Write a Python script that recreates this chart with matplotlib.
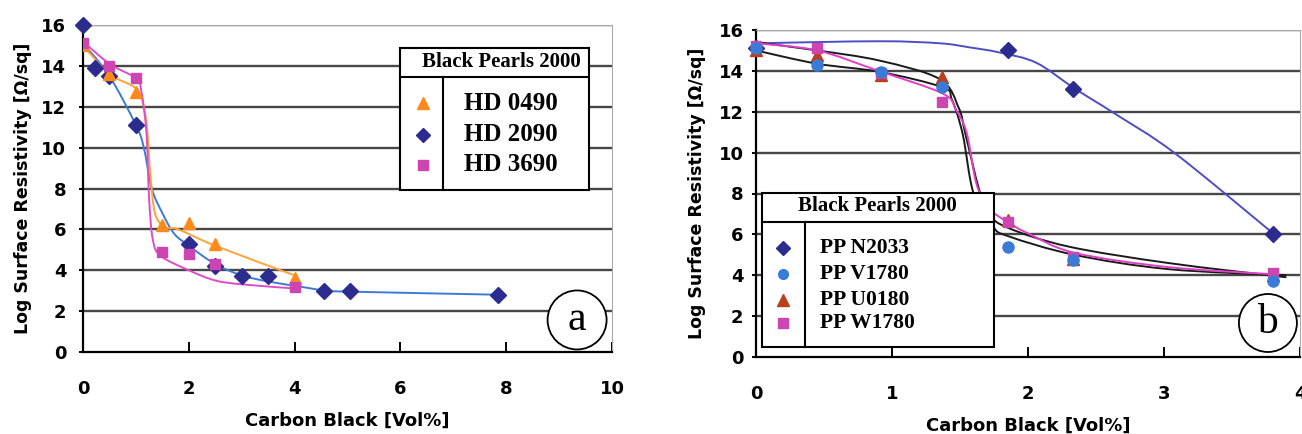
import numpy as np
import matplotlib
matplotlib.use("Agg")
import matplotlib.pyplot as plt
from matplotlib.path import Path
from matplotlib.patches import PathPatch, Rectangle, Ellipse

# ---- panel a : HDPE grades ----
hd0490_x = [0, 0.5, 1.0, 1.5, 2.0, 2.5, 4.0]
hd0490_y = [15.0, 13.6, 12.7, 6.2, 6.3, 5.3, 3.6]
hd2090_x = [0, 0.22, 0.5, 1.0, 2.0, 2.5, 3.0, 3.5, 4.55, 5.05, 7.85]
hd2090_y = [16.0, 13.9, 13.5, 11.1, 5.3, 4.2, 3.7, 3.7, 3.0, 3.0, 2.8]
hd3690_x = [0, 0.5, 1.0, 1.5, 2.0, 2.5, 4.0]
hd3690_y = [15.1, 14.0, 13.4, 4.9, 4.8, 4.3, 3.2]

# fitted curves (knots)
hd0490_fit_x = [0, 0.5, 1.0, 1.15, 1.22, 1.27, 1.36, 1.55, 1.8, 2.5, 4.05]
hd0490_fit_y = [15.0, 13.6, 12.9, 12.0, 10.7, 8.8, 6.8, 6.1, 6.0, 5.2, 3.7]
hd2090_fit_x = [0, 0.5, 1.0, 1.15, 1.3, 1.5, 1.72, 2.0, 2.5, 3.0, 3.5, 4.1, 4.6, 5.1, 7.9]
hd2090_fit_y = [15.1, 13.5, 11.1, 10.0, 8.0, 6.8, 5.8, 5.2, 4.3, 3.75, 3.45, 3.2, 3.0, 2.95, 2.8]
hd3690_fit_x = [0, 0.5, 1.0, 1.1, 1.2, 1.25, 1.32, 1.47, 2.0, 2.5, 3.05, 4.05]
hd3690_fit_y = [15.2, 14.1, 13.4, 12.8, 10.7, 7.5, 5.5, 4.7, 4.0, 3.5, 3.3, 3.1]

# ---- panel b : PP grades ----
n2033_x = [0, 1.85, 2.33, 3.8]
n2033_y = [15.1, 15.0, 13.1, 6.0]
pp_x = [0, 0.45, 0.92, 1.37, 1.85, 2.33, 3.8]
v1780_y = [15.1, 14.3, 13.95, 13.2, 5.4, 4.75, 3.7]
u0180_y = [15.0, 14.8, 13.8, 13.7, 6.7, 4.8, 4.0]
w1780_y = [15.2, 15.1, 13.9, 12.5, 6.6, 4.9, 4.1]

n2033_fit_x = [0, 0.9, 1.35, 1.57, 1.79, 2.06, 2.34, 2.64, 3.08, 3.8]
n2033_fit_y = [15.35, 15.45, 15.35, 15.15, 14.9, 14.4, 13.15, 11.9, 9.97, 6.06]
w1780_fit_x = [0, 0.45, 0.9, 1.37, 1.47, 1.55, 1.62, 1.71, 1.85, 2.0, 2.34, 3.03, 3.8]
w1780_fit_y = [15.35, 15.0, 14.0, 12.9, 12.1, 10.95, 8.5, 7.3, 6.6, 6.05, 5.1, 4.4, 4.05]
blk1_fit_x = [0, 0.45, 0.91, 1.35, 1.49, 1.54, 1.64, 1.71, 1.86, 2.3, 3.03, 3.9]
blk1_fit_y = [15.4, 15.0, 14.5, 13.6, 12.2, 10.9, 8.2, 7.0, 6.3, 5.4, 4.6, 3.9]
blk2_fit_x = [0, 0.45, 0.91, 1.37, 1.44, 1.52, 1.6, 1.74, 1.86, 2.34, 3.03, 3.9]
blk2_fit_y = [15.0, 14.35, 13.95, 13.2, 12.6, 10.9, 8.0, 6.4, 5.9, 5.0, 4.3, 4.0]

legend_title = "Black Pearls 2000"
labels_a = ["HD 0490", "HD 2090", "HD 3690"]
labels_b = ["PP N2033", "PP V1780", "PP U0180", "PP W1780"]

NAVY = "#2c2c8e"
ORANGE = "#ff8a1c"
MAGENTA = "#cc45b0"
LBLUE = "#3b7bd8"
BRICK = "#b8401c"

SANS = "DejaVu Sans"
SERIF = "Liberation Serif"


def smooth(ax, xs, ys, color, lw=1.4):
    # catmull-rom knots -> cubic bezier path, drawn by matplotlib
    p = np.column_stack([xs, ys]).astype(float)
    p = np.vstack([p[0], p, p[-1]])
    verts = [p[1]]
    codes = [Path.MOVETO]
    for i in range(1, len(p) - 2):
        c1 = p[i] + (p[i + 1] - p[i - 1]) / 6.0
        c2 = p[i + 1] - (p[i + 2] - p[i]) / 6.0
        verts += [c1, c2, p[i + 1]]
        codes += [Path.CURVE4] * 3
    ax.add_patch(PathPatch(Path(verts, codes), fc="none", ec=color, lw=lw,
                           transform=ax.transData, zorder=3))


def style_axes(ax, xmax, xticks, ypad, ylpad):
    ax.set_xlim(0, xmax)
    ax.set_ylim(0, 16)
    ax.set_yticks(range(0, 17, 2))
    ax.set_xticks(xticks)
    for y in range(2, 17, 2):
        ax.axhline(y, color="#474747", lw=1.7, zorder=1)
    ax.spines["left"].set_linewidth(1.6)
    ax.spines["bottom"].set_linewidth(1.6)
    ax.spines["top"].set_color("#aaaaaa")
    ax.spines["right"].set_color("#aaaaaa")
    ax.tick_params(axis="x", direction="in", length=7, width=1.4, pad=20,
                   labelsize=13)
    ax.tick_params(axis="y", direction="out", length=3, width=1.4, pad=ypad,
                   labelsize=13)
    for t in ax.get_xticklabels() + ax.get_yticklabels():
        t.set_fontfamily(SANS)
        t.set_fontweight("bold")
    ax.set_xlabel("Carbon Black [Vol%]", fontfamily=SANS, fontweight="bold",
                  fontsize=13, labelpad=10)
    ax.set_ylabel("Log Surface Resistivity [\u03a9/sq]", fontfamily=SANS,
                  fontweight="bold", fontsize=12.5, labelpad=ylpad)


def legend_table(ax, x0, x1, y0, y1, ydiv, xdiv, tx, ty, mx, lx, rows, fs):
    kw = dict(transform=ax.transAxes, clip_on=False, zorder=6)
    ax.add_patch(Rectangle((x0, y0), x1 - x0, y1 - y0, fc="white", ec="black",
                           lw=1.5, **kw))
    ax.plot([x0, x1], [ydiv, ydiv], color="black", lw=1.5, **kw)
    ax.plot([xdiv, xdiv], [y0, ydiv], color="black", lw=1.5, **kw)
    ax.text(tx, ty, legend_title, ha="center", va="center", fontsize=15,
            fontfamily=SERIF, fontweight="bold", transform=ax.transAxes,
            zorder=7)
    for (marker, color, ms, label, y) in rows:
        ax.plot([mx], [y], marker=marker, color=color, ms=ms, ls="none", **kw)
        ax.text(lx, y, label, ha="left", va="center", fontsize=fs,
                fontfamily=SERIF, fontweight="bold", transform=ax.transAxes,
                zorder=7)


def panel_tag(ax, cx, cy, w, h, letter):
    ax.add_patch(Ellipse((cx, cy), w, h, transform=ax.transAxes, fc="white",
                         ec="black", lw=1.3, zorder=6, clip_on=False))
    ax.text(cx, cy, letter, ha="center", va="center", fontsize=30,
            fontfamily=SERIF, transform=ax.transAxes, zorder=7)


fig = plt.figure(figsize=(13.02, 4.34), dpi=100)
ax1 = fig.add_axes([83 / 1302, 82 / 434, 529 / 1302, 327 / 434])
ax2 = fig.add_axes([756 / 1302, 77 / 434, 544 / 1302, 327 / 434])

# panel a
style_axes(ax1, 10, range(0, 11, 2), 9, 7)
smooth(ax1, hd2090_fit_x, hd2090_fit_y, LBLUE)
smooth(ax1, hd0490_fit_x, hd0490_fit_y, "#ffa33a")
smooth(ax1, hd3690_fit_x, hd3690_fit_y, "#e04cc8")
ax1.plot(hd2090_x, hd2090_y, "D", color=NAVY, ms=8, zorder=4, clip_on=False)
ax1.plot(hd0490_x, hd0490_y, "^", color=ORANGE, ms=9, zorder=4)
ax1.plot(hd3690_x, hd3690_y, "s", color=MAGENTA, ms=7.5, zorder=4)
legend_table(ax1, 0.599, 0.957, 0.495, 0.93, 0.841, 0.68, 0.79, 0.887,
             0.643, 0.72,
             [("^", ORANGE, 9, labels_a[0], 0.761),
              ("D", NAVY, 7, labels_a[1], 0.664),
              ("s", MAGENTA, 7, labels_a[2], 0.572)], 18)
panel_tag(ax1, 0.934, 0.098, 59 / 529, 59 / 327, "a")

# panel b
style_axes(ax2, 4, range(0, 5), 6, 9)
smooth(ax2, n2033_fit_x, n2033_fit_y, "#4d4dc4")
smooth(ax2, blk1_fit_x, blk1_fit_y, "#1a1a1a")
smooth(ax2, blk2_fit_x, blk2_fit_y, "#1a1a1a")
smooth(ax2, w1780_fit_x, w1780_fit_y, "#e040c8")
ax2.plot(n2033_x, n2033_y, "D", color=NAVY, ms=8, zorder=4, clip_on=False)
ax2.plot(pp_x, u0180_y, "^", color=BRICK, ms=9, zorder=4, clip_on=False)
ax2.plot(pp_x, w1780_y, "s", color=MAGENTA, ms=7.5, zorder=4, clip_on=False)
ax2.plot(pp_x, v1780_y, "o", color=LBLUE, ms=8, zorder=5, clip_on=False)
legend_table(ax2, 0.011, 0.4375, 0.031, 0.502, 0.413, 0.09, 0.223, 0.462,
             0.05, 0.118,
             [("D", NAVY, 7, labels_b[0], 0.333),
              ("o", LBLUE, 7, labels_b[1], 0.254),
              ("^", BRICK, 8, labels_b[2], 0.174),
              ("s", MAGENTA, 7, labels_b[3], 0.104)], 15.5)
panel_tag(ax2, 0.941, 0.104, 58 / 544, 58 / 327, "b")

fig.savefig("out.png", dpi=100)
